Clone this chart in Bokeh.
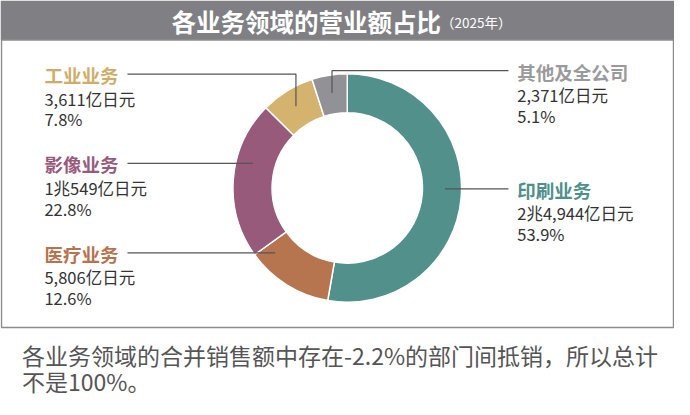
import numpy as np
from bokeh.plotting import figure
from bokeh.models import ColumnDataSource, Range1d
from bokeh.core.properties import value
from bokeh.embed import file_html
from bokeh.resources import INLINE

TITLE = "各业务领域的营业额占比"
TITLE_YEAR = "（2025年）"
NOTE_LINES = ["各业务领域的合并销售额中存在-2.2%的部门间抵销，所以总计", "不是100%。"]

# === Data (clockwise from 12 o'clock) === #
segments = ["印刷业务", "医疗业务", "影像业务", "工业业务", "其他及全公司"]
amounts = ["2兆4,944亿日元", "5,806亿日元", "1兆549亿日元", "3,611亿日元", "2,371亿日元"]
shares = [53.9, 12.6, 22.8, 7.8, 5.1]

# === Styles / layout === #
wedge_colors = ["#52918b", "#b6754f", "#975a7b", "#d4b36f", "#919196"]
name_colors = ["#4f8f89", "#b5734f", "#975a7b", "#cfad69", "#9a9a9c"]
# label anchor (x, y of the name line) and leader type, in reference-page pixels
label_layout = [(529, 197, "side"), (45, 263.5, "side"), (45, 170.5, "side"),
                (45, 77.5, "top"), (529, 74, "top")]
W, H = 674, 399          # canvas; the 690x415 page is mapped onto it
PAGE_W, PAGE_H = 690, 415
FONT = value("Noto Sans CJK SC")
CX, CY, R_OUT, R_IN, R_LEAD = 355, 195, 117, 77, 100


def fy(y):
    return -np.asarray(y, dtype=float)


p = figure(width=W, height=H, x_range=Range1d(0, PAGE_W), y_range=Range1d(-PAGE_H, 0),
           toolbar_location=None, output_backend="svg", min_border=0, tools="")
p.axis.visible = False
p.grid.visible = False
p.outline_line_color = None
p.background_fill_color = "white"

# === Title bar / frame === #
p.quad(left=0, right=PAGE_W, top=0, bottom=-41, fill_color="#808084", line_color=None)
p.quad(left=1, right=PAGE_W - 1, top=-41, bottom=-340, fill_alpha=0,
       line_color="#8c8c8c", line_width=1.5)
p.text(x=[451], y=fy([21.5]), text=[TITLE], text_font=FONT, text_font_size="24.5px",
       text_font_style="bold", text_color="white", text_align="right", text_baseline="middle")
p.text(x=[451], y=fy([22.5]), text=[TITLE_YEAR], text_font=FONT, text_font_size="13.5px",
       text_color="white", text_align="left", text_baseline="middle")

# === Donut === #
frac = np.array(shares) / sum(shares)
end_cum = np.cumsum(frac)
start_cum = end_cum - frac
src = ColumnDataSource(dict(
    x=[CX] * len(shares), y=list(fy([CY] * len(shares))),
    start=np.pi / 2 - 2 * np.pi * start_cum, end=np.pi / 2 - 2 * np.pi * end_cum,
    color=wedge_colors))
p.annular_wedge(x="x", y="y", inner_radius=R_IN, outer_radius=R_OUT, start_angle="start",
                end_angle="end", direction="clock", fill_color="color", line_color="white",
                line_width=1.5, source=src)

# === Labels + leader lines === #
mid = 2 * np.pi * (start_cum + frac / 2)
for i, (lx, ly, kind) in enumerate(label_layout):
    left = lx < CX
    ly_line = ly - 1
    x0 = 130 if left else 520
    if kind == "side":
        dx = np.sqrt(R_LEAD ** 2 - (ly_line - CY) ** 2)
        xs = [x0, CX - dx if left else CX + dx]
        ys = [ly_line, ly_line]
    else:
        ex = CX + R_LEAD * np.sin(mid[i])
        ey = CY - R_LEAD * np.cos(mid[i])
        xs = [x0, ex, ex]
        ys = [ly_line, ly_line, ey]
    p.line(x=xs, y=fy(ys), line_color="#555555", line_width=1.2)

    p.text(x=[lx], y=fy([ly]), text=[segments[i]], text_font=FONT, text_font_size="18.5px",
           text_font_style="bold", text_color=name_colors[i], text_baseline="middle")
    p.text(x=[lx, lx], y=fy([ly + 24.5, ly + 46]), text=[amounts[i], f"{shares[i]}%"],
           text_font=FONT, text_font_size="16.5px", text_color="#333333", text_baseline="middle")

# === Footnote === #
p.text(x=[22, 22], y=fy([369, 396]), text=NOTE_LINES, text_font=FONT, text_font_size="23px",
       text_color="#555555", text_baseline="middle")

open("out.html", "w").write(file_html(p, INLINE))
